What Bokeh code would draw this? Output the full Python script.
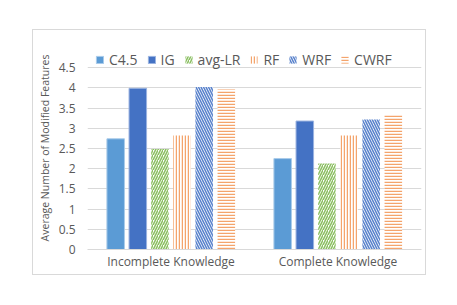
from bokeh.plotting import figure
from bokeh.models import (ColumnDataSource, FactorRange, Range1d, FixedTicker, Legend,
                          LegendItem, Spacer)
from bokeh.layouts import column, row
from bokeh.transform import dodge
from bokeh.embed import file_html
from bokeh.resources import INLINE

categories = ["Incomplete Knowledge", "Complete Knowledge"]
series = ["C4.5", "IG", "avg-LR", "RF", "WRF", "CWRF"]
c45 = [2.74, 2.25]
ig = [3.99, 3.18]
avg_lr = [2.49, 2.13]
rf = [2.82, 2.82]
wrf = [4.02, 3.22]
cwrf = [3.96, 3.33]
y_ticks = [0, 0.5, 1, 1.5, 2, 2.5, 3, 3.5, 4, 4.5]
y_tick_labels = ["0", "0.5", "1", "1.5", "2", "2.5", "3", "3.5", "4", "4.5"]

source = ColumnDataSource(dict(cat=categories, c45=c45, ig=ig, avg_lr=avg_lr,
                               rf=rf, wrf=wrf, cwrf=cwrf))

p = figure(x_range=FactorRange(factors=categories, range_padding=0),
           y_range=Range1d(0, 5.025), frame_width=332, frame_height=201,
           output_backend="svg", toolbar_location=None,
           min_border_left=54, min_border_right=6, min_border_top=16, min_border_bottom=27)
p.outline_line_color = None
p.background_fill_color = "white"
p.styles = {"border": "1px solid #D9D9D9"}

fields = ["c45", "ig", "avg_lr", "rf", "wrf", "cwrf"]
styles = [
    dict(fill_color="#5B9BD5", line_color="#A9CBEA"),
    dict(fill_color="#4472C4", line_color="#9AB3E0"),
    dict(fill_color="white", hatch_pattern="/", hatch_color="#8CC063", hatch_scale=5, hatch_weight=1.6, line_color=None),
    dict(fill_color="white", hatch_pattern="|", hatch_color="#F4A46C", hatch_scale=3, hatch_weight=1.5, line_color=None),
    dict(fill_color="white", hatch_pattern="\\", hatch_color="#5A83CC", hatch_scale=5, hatch_weight=1.6, line_color=None),
    dict(fill_color="white", hatch_pattern="-", hatch_color="#F4A46C", hatch_scale=3, hatch_weight=1.5, line_color=None),
]
step = 0.1325
width = 0.105
items = []
for i, (f, name, st) in enumerate(zip(fields, series, styles)):
    off = (i - 2.5) * step
    r = p.vbar(x=dodge("cat", off, range=p.x_range), top=f, width=width,
               source=source, line_width=1, **st)
    items.append(LegendItem(label=name, renderers=[r]))

legend = Legend(items=items, orientation="horizontal", location=(8, 180),
                label_text_font="Open Sans", label_text_font_size="14px",
                label_text_color="#595959", glyph_width=9, glyph_height=9,
                label_standoff=5, spacing=9, label_width=5, label_height=19,
                padding=0, margin=0, border_line_color=None,
                background_fill_alpha=0)
p.add_layout(legend)

p.yaxis.ticker = FixedTicker(ticks=y_ticks)
p.yaxis.major_label_overrides = {t: l for t, l in zip(y_ticks, y_tick_labels)}
p.yaxis.axis_line_color = None
p.yaxis.major_tick_line_color = None
p.yaxis.minor_tick_line_color = None
p.yaxis.major_tick_out = 0
p.yaxis.major_label_standoff = 12
p.yaxis.major_label_text_font = "Open Sans"
p.yaxis.major_label_text_font_size = "12px"
p.yaxis.major_label_text_color = "#595959"
p.yaxis.axis_label = "Average Number of Modified Features"
p.yaxis.axis_label_text_font = "Open Sans"
p.yaxis.axis_label_text_font_size = "10.5px"
p.yaxis.axis_label_text_font_style = "normal"
p.yaxis.axis_label_text_color = "#595959"
p.yaxis.axis_label_standoff = 4

p.xaxis.axis_label = None
p.xaxis.axis_label_standoff = 0
p.xaxis.axis_line_color = "#D9D9D9"
p.xaxis.major_tick_line_color = None
p.xaxis.minor_tick_line_color = None
p.xaxis.major_tick_out = 0
p.xaxis.major_tick_in = 0
p.xaxis.minor_tick_out = 0
p.xaxis.major_label_standoff = 3
p.xaxis.major_label_text_line_height = 1.0
p.xaxis.major_label_text_font = "Open Sans"
p.xaxis.major_label_text_font_size = "12px"
p.xaxis.major_label_text_color = "#595959"

p.xgrid.grid_line_color = None
p.ygrid.grid_line_color = "#D9D9D9"
p.ygrid.ticker = FixedTicker(ticks=y_ticks)

layout = column(Spacer(height=29), row(Spacer(width=32), p))
open("out.html", "w").write(file_html(layout, INLINE))
